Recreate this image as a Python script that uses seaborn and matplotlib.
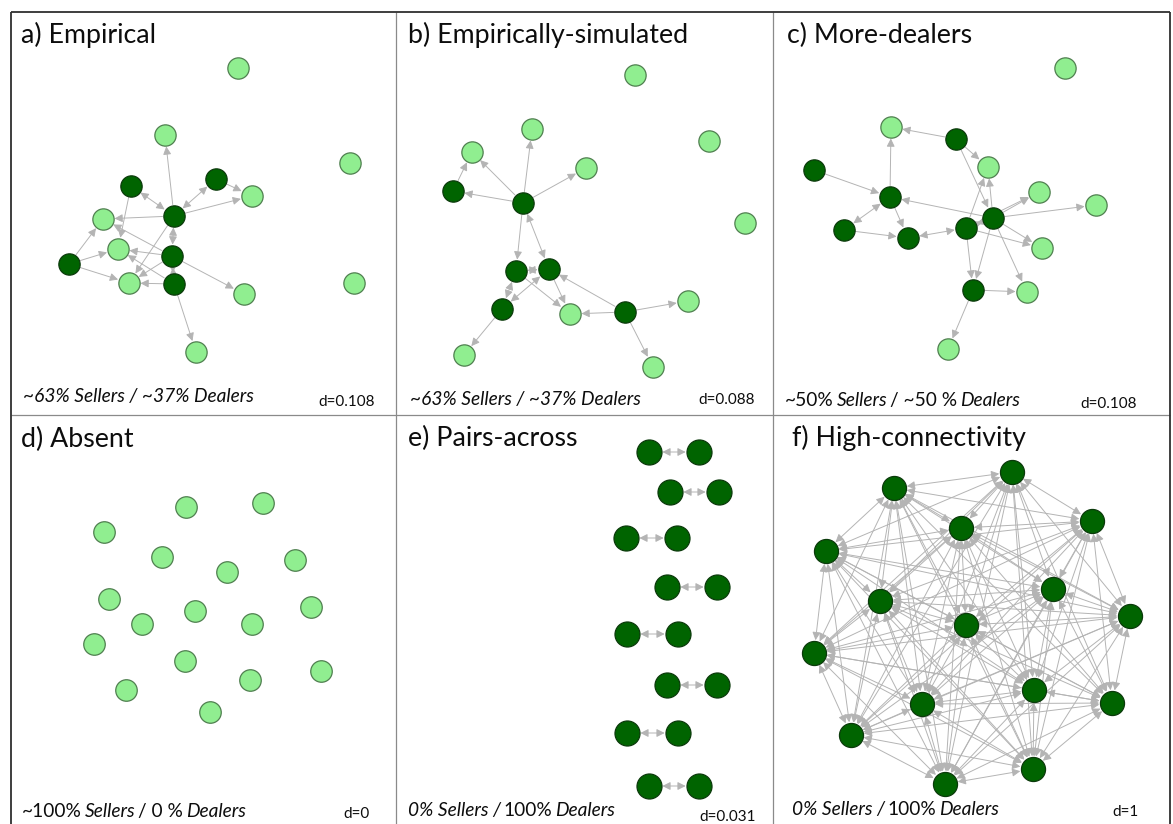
import itertools
import matplotlib
matplotlib.use("Agg")
import matplotlib.pyplot as plt
from matplotlib.lines import Line2D
from matplotlib.transforms import IdentityTransform
import pandas as pd
import seaborn as sns

sns.set_theme(style="white")
plt.rcParams["font.family"] = ["Lato", "DejaVu Sans"]

# ---------------------------------------------------------------- data
# node layouts (panel-local units), node kinds and directed ties
a_x = [227, 154, 339, 241, 92, 107, 118, 233, 343, 185, 120, 205, 163, 161, 163, 58]
a_y = [56, 123, 151, 184, 207, 237, 271, 282, 271, 340, 174, 167, 204, 244, 272, 252]
a_kind = ["S"] * 10 + ["D"] * 6
a_oneway = [(11, 3), (12, 3), (12, 1), (12, 4), (12, 6), (10, 5), (15, 4), (15, 5),
            (15, 6), (13, 5), (13, 7), (13, 4), (13, 6), (14, 6), (14, 5), (14, 9)]
a_mutual = [(10, 12), (11, 12), (12, 13), (13, 14)]

b_x = [239, 136, 313, 76, 190, 349, 292, 174, 68, 257, 57, 127, 120, 153, 106, 229]
b_y = [63, 117, 129, 140, 156, 211, 289, 302, 343, 355, 179, 191, 259, 257, 297, 300]
b_kind = ["S"] * 10 + ["D"] * 6
b_oneway = [(11, 1), (11, 3), (11, 10), (11, 4), (10, 3), (11, 12), (12, 7), (13, 7),
            (15, 13), (15, 7), (15, 6), (15, 9), (14, 8)]
b_mutual = [(11, 13), (12, 13), (12, 14), (13, 14)]

c_x = [292, 118, 215, 266, 323, 269, 254, 175, 183, 41, 117, 71, 135, 193, 220, 200]
c_y = [56, 115, 155, 180, 193, 236, 280, 337, 127, 158, 185, 218, 226, 216, 206, 278]
c_kind = ["S"] * 8 + ["D"] * 8
c_oneway = [(8, 1), (8, 2), (8, 14), (9, 10), (10, 1), (10, 12), (11, 12), (14, 10),
            (13, 2), (14, 2), (13, 3), (14, 3), (14, 4), (13, 5), (14, 5), (14, 6),
            (13, 15), (14, 15), (15, 6), (15, 7)]
c_mutual = [(11, 10), (12, 13), (13, 14)]

d_x = [175, 252, 93, 151, 284, 216, 98, 184, 300, 131, 241, 83, 174, 310, 239, 115, 199]
d_y = [92, 88, 117, 142, 145, 157, 184, 196, 192, 209, 209, 229, 246, 256, 265, 275, 297]
d_kind = ["S"] * 17
d_oneway = []
d_mutual = []

e_x = [253, 303, 274, 323, 230, 281, 271, 321, 231, 282, 271, 321, 231, 282, 253, 303]
e_y = [37, 37, 77, 77, 123, 123, 172, 172, 219, 219, 270, 270, 318, 318, 371, 371]
e_kind = ["D"] * 16
e_oneway = []
e_mutual = [(0, 1), (2, 3), (4, 5), (6, 7), (8, 9), (10, 11), (12, 13), (14, 15)]

f_x = [239, 121, 319, 188, 53, 280, 107, 357, 193, 41, 261, 149, 339, 78, 260, 172]
f_y = [57, 73, 106, 113, 136, 174, 186, 201, 210, 238, 275, 289, 288, 320, 354, 369]
f_kind = ["D"] * 16
f_oneway = []
f_mutual = list(itertools.combinations(range(16), 2))  # every ordered pair is tied

titles = ["a) Empirical", "b) Empirically-simulated", "c) More-dealers",
          "d) Absent", "e) Pairs-across", "f) High-connectivity"]
shares = [
    [("~63% Sellers / ~37% Dealers", "italic")],
    [("~63% Sellers / ~37% Dealers", "italic")],
    [("~50%", "normal"), ("Sellers", "italic"), ("/ ~50 %", "normal"), ("Dealers", "italic")],
    [("~100%", "normal"), ("Sellers", "italic"), ("/ 0 %", "normal"), ("Dealers", "italic")],
    [("0% Sellers /", "italic"), ("100%", "normal"), ("Dealers", "italic")],
    [("0% Sellers /", "italic"), ("100%", "normal"), ("Dealers", "italic")],
]
densities = ["d=0.108", "d=0.088", "d=0.108", "d=0", "d=0.031", "d=1"]

panels = [
    (a_x, a_y, a_kind, a_oneway, a_mutual),
    (b_x, b_y, b_kind, b_oneway, b_mutual),
    (c_x, c_y, c_kind, c_oneway, c_mutual),
    (d_x, d_y, d_kind, d_oneway, d_mutual),
    (e_x, e_y, e_kind, e_oneway, e_mutual),
    (f_x, f_y, f_kind, f_oneway, f_mutual),
]

# ---------------------------------------------------------------- layout / style
W, H, DPI = 1173, 824, 100
col_edges = [11, 396, 773, 1170]
row_edges = [12, 415, 824]
node_size = [235, 235, 235, 240, 324, 300]
title_pos = [(10, 31), (12, 31), (14, 31), (10, 32), (12, 31), (19, 31)]
share_pos = [(12, 390), (14, 393), (12, 394), (11, 402), (12, 401), (19, 400)]
dens_pos = [(307, 394), (302, 392), (307, 396), (332, 403), (303, 406), (339, 401)]
TITLE_SIZE = 19.3
SHARE_SIZE = 13.8
DENS_SIZE = 11

FILL = {"S": "#90ee90", "D": "#006400"}
RIM = {"S": "#4f7f4f", "D": "#0b3a0b"}
EDGE_COLOR = "#b4b4b4"
INK = "#0d0d0d"

fig = plt.figure(figsize=(W / DPI, H / DPI), dpi=DPI)
renderer = fig.canvas.get_renderer()


def draw_edges(ax, xs, ys, oneway, mutual, r_pt):
    head = ",head_length=0.6,head_width=0.3"
    for style, pairs in (("-|>" + head, oneway), ("<|-|>" + head, mutual)):
        for s, t in pairs:
            ax.annotate("", xy=(xs[t], ys[t]), xytext=(xs[s], ys[s]),
                        arrowprops=dict(arrowstyle=style, color=EDGE_COLOR, lw=0.7,
                                        shrinkA=r_pt, shrinkB=r_pt, mutation_scale=8),
                        zorder=2)


def rich_text(ax, x, y, parts, size):
    """Lay out text runs of differing style one after another on one baseline."""
    X, Y = ax.transData.transform((x, y))
    gap = 0.15 * size * DPI / 72
    for i, (txt, style) in enumerate(parts):
        if i:
            X += gap
        t = fig.text(X, Y, txt, transform=IdentityTransform(), fontsize=size,
                     fontstyle=style, color=INK, va="baseline", ha="left")
        X += t.get_window_extent(renderer).width


for i, (xs, ys, kind, oneway, mutual) in enumerate(panels):
    r, c = divmod(i, 3)
    x0, x1 = col_edges[c], col_edges[c + 1]
    y0, y1 = row_edges[r], row_edges[r + 1]
    ax = fig.add_axes([x0 / W, 1 - y1 / H, (x1 - x0) / W, (y1 - y0) / H])
    ax.set_xlim(0, x1 - x0)
    ax.set_ylim(y1 - y0, 0)
    ax.set_axis_off()

    df = pd.DataFrame({"x": xs, "y": ys, "kind": kind})
    r_pt = node_size[i] ** 0.5 / 2 + 0.6
    draw_edges(ax, xs, ys, oneway, mutual, r_pt)
    for k in ("S", "D"):
        sub = df[df["kind"] == k]
        if len(sub):
            sns.scatterplot(data=sub, x="x", y="y", ax=ax, s=node_size[i],
                            color=FILL[k], edgecolor=RIM[k], linewidth=0.9,
                            legend=False, zorder=5)
    ax.set_xlabel("")
    ax.set_ylabel("")

    tx, ty = title_pos[i]
    ax.text(tx, ty, titles[i], fontsize=TITLE_SIZE, color=INK, va="baseline", ha="left")
    sx, sy = share_pos[i]
    rich_text(ax, sx, sy, shares[i], SHARE_SIZE)
    dx, dy = dens_pos[i]
    ax.text(dx, dy, densities[i], fontsize=DENS_SIZE, color=INK, va="baseline", ha="left")

# panel frame: dark outer rule, grey dividers
def fline(xa, ya, xb, yb, color, lw):
    fig.add_artist(Line2D([xa / W, xb / W], [1 - ya / H, 1 - yb / H],
                          transform=fig.transFigure, color=color, lw=lw,
                          solid_capstyle="butt"))

fline(396, 12, 396, 824, "#8a8a8a", 0.9)
fline(773, 12, 773, 824, "#8a8a8a", 0.9)
fline(11, 415, 1170, 415, "#8a8a8a", 0.9)
fline(11, 12, 1170, 12, "#2f2f2f", 1.3)
fline(11, 11.5, 11, 824, "#2f2f2f", 1.3)
fline(1170, 11.5, 1170, 824, "#2f2f2f", 1.3)

fig.savefig("out.png", dpi=DPI, facecolor="white")
